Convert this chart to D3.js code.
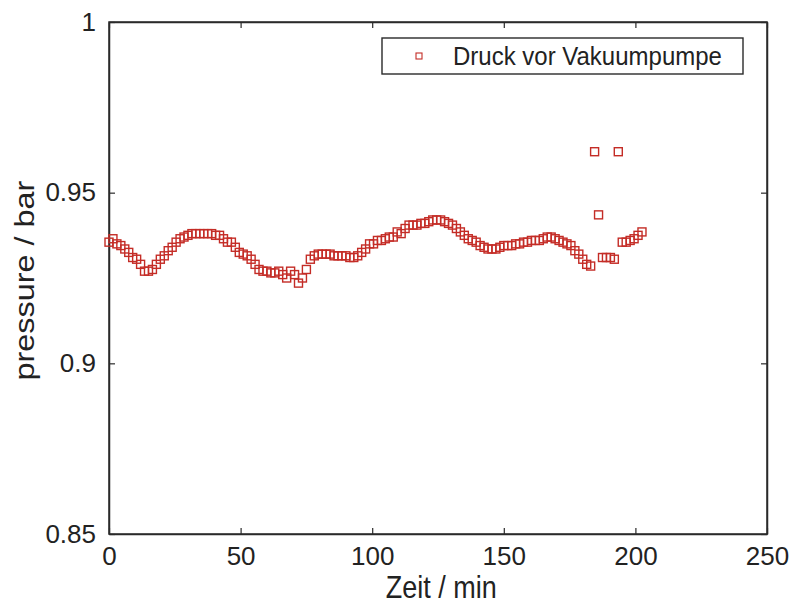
<!DOCTYPE html>
<html>
<head>
<meta charset="utf-8">
<script src="https://cdn.jsdelivr.net/npm/d3@7"></script>
<style>
  body { margin: 0; background: #fff; }
  text { font-family: "Liberation Sans", Arial, sans-serif; fill: #222; }
</style>
</head>
<body>
<script>
// time in minutes
var zeit = [0, 1.5, 3, 4.5, 6, 7.5, 9, 10.5, 12, 13.5, 15, 16.5, 18, 19.5, 21, 22.5, 24, 25.5, 27, 28.5,
  30, 31.5, 33, 34.5, 36, 37.5, 39, 40.5, 42, 43.5, 45, 46.5, 48, 49.5, 51, 52.5, 54, 55.5, 57, 58.5,
  60, 61.5, 63, 64.5, 66, 67.5, 69, 70.5, 72, 73.5, 75, 76.5, 78, 79.5, 81, 82.5, 84, 85.5, 87, 88.5,
  90, 91.5, 93, 94.5, 96, 97.5, 99, 100.5, 102, 103.5, 105, 106.5, 108, 109.5, 111, 112.5, 114, 115.5, 117, 118.5,
  120, 121.5, 123, 124.5, 126, 127.5, 129, 130.5, 132, 133.5, 135, 136.5, 138, 139.5, 141, 142.5, 144, 145.5, 147, 148.5,
  150, 151.5, 153, 154.5, 156, 157.5, 159, 160.5, 162, 163.5, 165, 166.5, 168, 169.5, 171, 172.5, 174, 175.5, 177, 178.5,
  180, 181.5, 183, 184.5, 186, 187.5, 189, 190.5, 192, 193.5, 195, 196.5, 198, 199.5, 201, 202.5]

// pressure in bar
var druck = [0.9355, 0.9365, 0.935, 0.9345, 0.9335, 0.9325, 0.931, 0.9305, 0.929, 0.927, 0.927, 0.9275, 0.929, 0.9305, 0.9315, 0.933, 0.934, 0.9355, 0.9365, 0.937,
  0.9375, 0.938, 0.938, 0.938, 0.938, 0.938, 0.938, 0.9375, 0.9375, 0.9365, 0.9355, 0.9355, 0.934, 0.9325, 0.932, 0.9315, 0.9305, 0.929, 0.9275, 0.927,
  0.927, 0.9265, 0.9265, 0.927, 0.926, 0.925, 0.927, 0.926, 0.9235, 0.925, 0.9275, 0.9305, 0.9315, 0.932, 0.932, 0.932, 0.932, 0.9315, 0.9315, 0.9315,
  0.9315, 0.931, 0.931, 0.9315, 0.9325, 0.9335, 0.935, 0.935, 0.936, 0.936, 0.9365, 0.937, 0.937, 0.9385, 0.938, 0.9395, 0.9405, 0.9405, 0.9405, 0.941,
  0.941, 0.9415, 0.942, 0.942, 0.942, 0.9415, 0.941, 0.9405, 0.9395, 0.9385, 0.9375, 0.9365, 0.936, 0.9355, 0.9345, 0.934, 0.9335, 0.9335, 0.9335, 0.934,
  0.9345, 0.9345, 0.9345, 0.935, 0.935, 0.9355, 0.9355, 0.936, 0.936, 0.936, 0.9365, 0.937, 0.937, 0.9365, 0.936, 0.9355, 0.935, 0.9345, 0.933, 0.932,
  0.9305, 0.929, 0.9285, 0.962, 0.9435, 0.931, 0.931, 0.931, 0.9305, 0.962, 0.9355, 0.9355, 0.936, 0.9365, 0.9375, 0.9385]

var xTicks = [0, 50, 100, 150, 200, 250]
var yTicks = [0.85, 0.9, 0.95, 1]
var seriesName = "Druck vor Vakuumpumpe"

var width = 794
var height = 608
var margin = { top: 22, right: 27, bottom: 74, left: 109 }
var innerWidth = width - margin.left - margin.right
var innerHeight = height - margin.top - margin.bottom
var markerColor = "#c42c26"

var svg = d3.select("body").append("svg")
  .attr("width", width)
  .attr("height", height)

var g = svg.append("g")
  .attr("transform", "translate(" + margin.left + "," + margin.top + ")")

var xScale = d3.scaleLinear().domain([0, 250]).range([0, innerWidth])
var yScale = d3.scaleLinear().domain([0.85, 1]).range([innerHeight, 0])

// box
g.append("rect")
  .attr("width", innerWidth)
  .attr("height", innerHeight)
  .attr("fill", "none")
  .attr("stroke", "#2a2a2a")
  .attr("stroke-width", 1.5)

// axes with inward ticks
var fmtY = d => d === 1 ? "1" : d3.format("")(d)
g.append("g")
  .attr("transform", "translate(0," + innerHeight + ")")
  .call(d3.axisBottom(xScale).tickValues(xTicks).tickSizeInner(-6).tickSizeOuter(0).tickPadding(13))
g.append("g")
  .call(d3.axisLeft(yScale).tickValues(yTicks).tickFormat(fmtY).tickSizeInner(-6).tickSizeOuter(0).tickPadding(13))
g.append("g").attr("class", "noLabels")
  .call(d3.axisTop(xScale).tickValues(xTicks).tickSizeInner(-6).tickSizeOuter(0))
g.append("g").attr("class", "noLabels")
  .attr("transform", "translate(" + innerWidth + ",0)")
  .call(d3.axisRight(yScale).tickValues(yTicks).tickSizeInner(-6).tickSizeOuter(0))
g.selectAll(".noLabels .tick text").remove()

g.selectAll(".domain").attr("stroke", "#2a2a2a").attr("stroke-width", 1.5)
g.selectAll(".tick line").attr("stroke", "#2a2a2a").attr("stroke-width", 1.2)
g.selectAll(".tick text")
  .attr("font-size", "26px")
  .attr("font-family", "Liberation Sans, Arial, sans-serif")
  .attr("fill", "#222")

// data markers
var pts = zeit.map((t, i) => ({ t: t, p: druck[i] }))
g.append("g").selectAll("rect")
  .data(pts)
  .enter()
  .append("rect")
  .attr("x", d => xScale(d.t) - 4)
  .attr("y", d => yScale(d.p) - 4)
  .attr("width", 8)
  .attr("height", 8)
  .attr("fill", "none")
  .attr("stroke", markerColor)
  .attr("stroke-width", 1.4)

// axis labels (scan is slightly stretched vertically)
svg.append("text")
  .attr("transform", "translate(" + (margin.left + innerWidth * 0.505) + ",598) scale(1,1.15)")
  .attr("text-anchor", "middle")
  .attr("font-size", "27px")
  .text("Zeit / min")

svg.append("text")
  .attr("transform", "translate(34," + (margin.top + innerHeight * 0.505) + ") rotate(-90) scale(1.2,1)")
  .attr("text-anchor", "middle")
  .attr("font-size", "27px")
  .text("pressure / bar")

// legend
var legend = svg.append("g").attr("transform", "translate(382,38)")
legend.append("rect")
  .attr("width", 361)
  .attr("height", 36)
  .attr("fill", "#fff")
  .attr("stroke", "#2a2a2a")
  .attr("stroke-width", 1.4)
legend.append("rect")
  .attr("x", 34)
  .attr("y", 15)
  .attr("width", 6)
  .attr("height", 6)
  .attr("fill", "none")
  .attr("stroke", markerColor)
  .attr("stroke-width", 1.1)
legend.append("text")
  .attr("transform", "translate(71,27) scale(1,1.1)")
  .attr("font-size", "24px")
  .text(seriesName)
</script>
</body>
</html>
